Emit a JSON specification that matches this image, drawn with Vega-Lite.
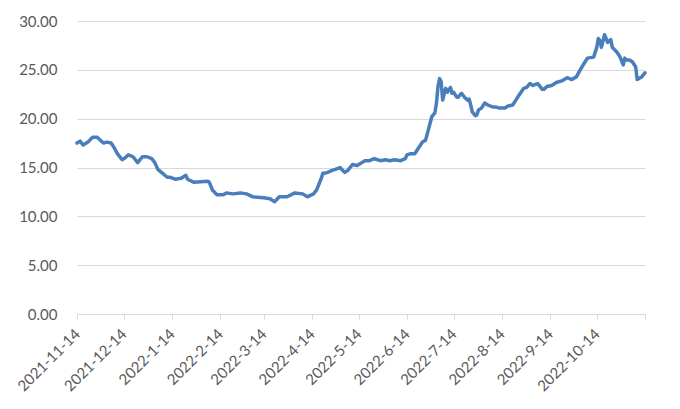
{
  "$schema": "https://vega.github.io/schema/vega-lite/v6.json",
  "autosize": "none",
  "width": 568,
  "height": 293,
  "padding": {"left": 77, "top": 21, "right": 35, "bottom": 95},
  "background": "white",
  "config": {
    "view": {"stroke": null},
    "font": "Lato",
    "axis": {"labelFont": "Lato", "labelFontSize": 15, "labelColor": "#595959", "gridColor": "#d9d9d9", "gridWidth": 1, "title": null}
  },
  "data": {
    "values": [
      {"date": "2021-11-14", "price": 17.5},
      {"date": "2021-11-16", "price": 17.7},
      {"date": "2021-11-18", "price": 17.3},
      {"date": "2021-11-21", "price": 17.6},
      {"date": "2021-11-24", "price": 18.1},
      {"date": "2021-11-27", "price": 18.1},
      {"date": "2021-11-29", "price": 17.8},
      {"date": "2021-12-01", "price": 17.5},
      {"date": "2021-12-03", "price": 17.6},
      {"date": "2021-12-06", "price": 17.5},
      {"date": "2021-12-08", "price": 17.0},
      {"date": "2021-12-10", "price": 16.4},
      {"date": "2021-12-13", "price": 15.8},
      {"date": "2021-12-15", "price": 16.0},
      {"date": "2021-12-17", "price": 16.3},
      {"date": "2021-12-20", "price": 16.1},
      {"date": "2021-12-23", "price": 15.5},
      {"date": "2021-12-26", "price": 16.1},
      {"date": "2021-12-29", "price": 16.1},
      {"date": "2022-01-01", "price": 15.9},
      {"date": "2022-01-03", "price": 15.5},
      {"date": "2022-01-05", "price": 14.8},
      {"date": "2022-01-08", "price": 14.4},
      {"date": "2022-01-11", "price": 14.0},
      {"date": "2022-01-13", "price": 14.0},
      {"date": "2022-01-16", "price": 13.8},
      {"date": "2022-01-20", "price": 13.9},
      {"date": "2022-01-23", "price": 14.2},
      {"date": "2022-01-24", "price": 13.8},
      {"date": "2022-01-28", "price": 13.5},
      {"date": "2022-02-06", "price": 13.6},
      {"date": "2022-02-07", "price": 13.5},
      {"date": "2022-02-09", "price": 12.7},
      {"date": "2022-02-12", "price": 12.2},
      {"date": "2022-02-16", "price": 12.2},
      {"date": "2022-02-18", "price": 12.4},
      {"date": "2022-02-22", "price": 12.3},
      {"date": "2022-02-27", "price": 12.4},
      {"date": "2022-03-03", "price": 12.3},
      {"date": "2022-03-07", "price": 12.0},
      {"date": "2022-03-14", "price": 11.9},
      {"date": "2022-03-18", "price": 11.8},
      {"date": "2022-03-21", "price": 11.5},
      {"date": "2022-03-24", "price": 12.0},
      {"date": "2022-03-29", "price": 12.0},
      {"date": "2022-04-03", "price": 12.4},
      {"date": "2022-04-08", "price": 12.3},
      {"date": "2022-04-11", "price": 12.0},
      {"date": "2022-04-15", "price": 12.3},
      {"date": "2022-04-17", "price": 12.7},
      {"date": "2022-04-20", "price": 13.9},
      {"date": "2022-04-21", "price": 14.4},
      {"date": "2022-04-22", "price": 14.4},
      {"date": "2022-04-24", "price": 14.5},
      {"date": "2022-04-27", "price": 14.7},
      {"date": "2022-04-29", "price": 14.8},
      {"date": "2022-05-02", "price": 15.0},
      {"date": "2022-05-05", "price": 14.5},
      {"date": "2022-05-07", "price": 14.7},
      {"date": "2022-05-10", "price": 15.3},
      {"date": "2022-05-13", "price": 15.2},
      {"date": "2022-05-16", "price": 15.5},
      {"date": "2022-05-18", "price": 15.7},
      {"date": "2022-05-21", "price": 15.7},
      {"date": "2022-05-24", "price": 15.9},
      {"date": "2022-05-28", "price": 15.7},
      {"date": "2022-05-31", "price": 15.8},
      {"date": "2022-06-03", "price": 15.7},
      {"date": "2022-06-06", "price": 15.8},
      {"date": "2022-06-10", "price": 15.7},
      {"date": "2022-06-13", "price": 15.9},
      {"date": "2022-06-14", "price": 16.3},
      {"date": "2022-06-16", "price": 16.4},
      {"date": "2022-06-19", "price": 16.4},
      {"date": "2022-06-21", "price": 16.9},
      {"date": "2022-06-24", "price": 17.6},
      {"date": "2022-06-26", "price": 17.8},
      {"date": "2022-06-28", "price": 19.0},
      {"date": "2022-06-30", "price": 20.2},
      {"date": "2022-07-02", "price": 20.6},
      {"date": "2022-07-03", "price": 21.6},
      {"date": "2022-07-04", "price": 23.3},
      {"date": "2022-07-05", "price": 24.1},
      {"date": "2022-07-06", "price": 23.8},
      {"date": "2022-07-07", "price": 21.9},
      {"date": "2022-07-08", "price": 22.6},
      {"date": "2022-07-09", "price": 23.1},
      {"date": "2022-07-10", "price": 22.7},
      {"date": "2022-07-12", "price": 23.2},
      {"date": "2022-07-13", "price": 22.6},
      {"date": "2022-07-14", "price": 22.7},
      {"date": "2022-07-16", "price": 22.2},
      {"date": "2022-07-17", "price": 22.2},
      {"date": "2022-07-19", "price": 22.6},
      {"date": "2022-07-21", "price": 22.2},
      {"date": "2022-07-23", "price": 21.9},
      {"date": "2022-07-24", "price": 22.0},
      {"date": "2022-07-25", "price": 21.4},
      {"date": "2022-07-26", "price": 20.7},
      {"date": "2022-07-28", "price": 20.3},
      {"date": "2022-07-29", "price": 20.4},
      {"date": "2022-07-30", "price": 20.9},
      {"date": "2022-08-01", "price": 21.1},
      {"date": "2022-08-03", "price": 21.6},
      {"date": "2022-08-05", "price": 21.4},
      {"date": "2022-08-08", "price": 21.2},
      {"date": "2022-08-10", "price": 21.2},
      {"date": "2022-08-12", "price": 21.1},
      {"date": "2022-08-14", "price": 21.1},
      {"date": "2022-08-16", "price": 21.1},
      {"date": "2022-08-18", "price": 21.3},
      {"date": "2022-08-21", "price": 21.4},
      {"date": "2022-08-23", "price": 21.9},
      {"date": "2022-08-25", "price": 22.4},
      {"date": "2022-08-28", "price": 23.1},
      {"date": "2022-08-30", "price": 23.2},
      {"date": "2022-09-01", "price": 23.6},
      {"date": "2022-09-03", "price": 23.4},
      {"date": "2022-09-06", "price": 23.6},
      {"date": "2022-09-07", "price": 23.4},
      {"date": "2022-09-09", "price": 23.0},
      {"date": "2022-09-10", "price": 23.0},
      {"date": "2022-09-12", "price": 23.3},
      {"date": "2022-09-15", "price": 23.4},
      {"date": "2022-09-18", "price": 23.7},
      {"date": "2022-09-22", "price": 23.9},
      {"date": "2022-09-25", "price": 24.2},
      {"date": "2022-09-28", "price": 24.0},
      {"date": "2022-10-01", "price": 24.3},
      {"date": "2022-10-03", "price": 24.9},
      {"date": "2022-10-06", "price": 25.7},
      {"date": "2022-10-08", "price": 26.2},
      {"date": "2022-10-12", "price": 26.3},
      {"date": "2022-10-14", "price": 27.3},
      {"date": "2022-10-15", "price": 28.2},
      {"date": "2022-10-16", "price": 28.0},
      {"date": "2022-10-17", "price": 27.3},
      {"date": "2022-10-19", "price": 28.6},
      {"date": "2022-10-21", "price": 27.8},
      {"date": "2022-10-23", "price": 28.1},
      {"date": "2022-10-24", "price": 27.3},
      {"date": "2022-10-27", "price": 26.8},
      {"date": "2022-10-29", "price": 26.3},
      {"date": "2022-10-31", "price": 25.5},
      {"date": "2022-11-01", "price": 26.2},
      {"date": "2022-11-02", "price": 26.0},
      {"date": "2022-11-04", "price": 26.0},
      {"date": "2022-11-06", "price": 25.8},
      {"date": "2022-11-08", "price": 25.3},
      {"date": "2022-11-09", "price": 24.0},
      {"date": "2022-11-12", "price": 24.3},
      {"date": "2022-11-14", "price": 24.7}
    ]
  },
  "mark": {"type": "line", "color": "#4a7ebb", "strokeWidth": 3.5, "strokeJoin": "round", "strokeCap": "round"},
  "encoding": {
    "x": {
      "field": "date",
      "type": "temporal",
      "scale": {"type": "utc", "domain": [{"year": 2021, "month": 11, "date": 14, "utc": true}, {"year": 2022, "month": 11, "date": 14, "utc": true}]},
      "axis": {
        "values": [
          {"year": 2021, "month": 11, "date": 14, "utc": true},
          {"year": 2021, "month": 12, "date": 14, "utc": true},
          {"year": 2022, "month": 1, "date": 14, "utc": true},
          {"year": 2022, "month": 2, "date": 14, "utc": true},
          {"year": 2022, "month": 3, "date": 14, "utc": true},
          {"year": 2022, "month": 4, "date": 14, "utc": true},
          {"year": 2022, "month": 5, "date": 14, "utc": true},
          {"year": 2022, "month": 6, "date": 14, "utc": true},
          {"year": 2022, "month": 7, "date": 14, "utc": true},
          {"year": 2022, "month": 8, "date": 14, "utc": true},
          {"year": 2022, "month": 9, "date": 14, "utc": true},
          {"year": 2022, "month": 10, "date": 14, "utc": true},
          {"year": 2022, "month": 11, "date": 14, "utc": true}
        ],
        "labelExpr": "utcFormat(datum.value, '%Y-%-m') == '2022-11' ? '' : utcFormat(datum.value, '%Y-%-m-%-d')",
        "labelAngle": -45,
        "labelAlign": "right",
        "labelBaseline": "middle",
        "labelPadding": 12,
        "grid": false,
        "domainColor": "#d9d9d9",
        "tickColor": "#d9d9d9",
        "tickSize": 5,
        "labelOverlap": false,
        "labelFlush": false,
        "labelBound": false
      }
    },
    "y": {
      "field": "price",
      "type": "quantitative",
      "scale": {"domain": [0, 30], "nice": false, "zero": true},
      "axis": {
        "values": [0, 5, 10, 15, 20, 25, 30],
        "format": ".2f",
        "domain": false,
        "ticks": false,
        "labelPadding": 20,
        "grid": true
      }
    }
  }
}
